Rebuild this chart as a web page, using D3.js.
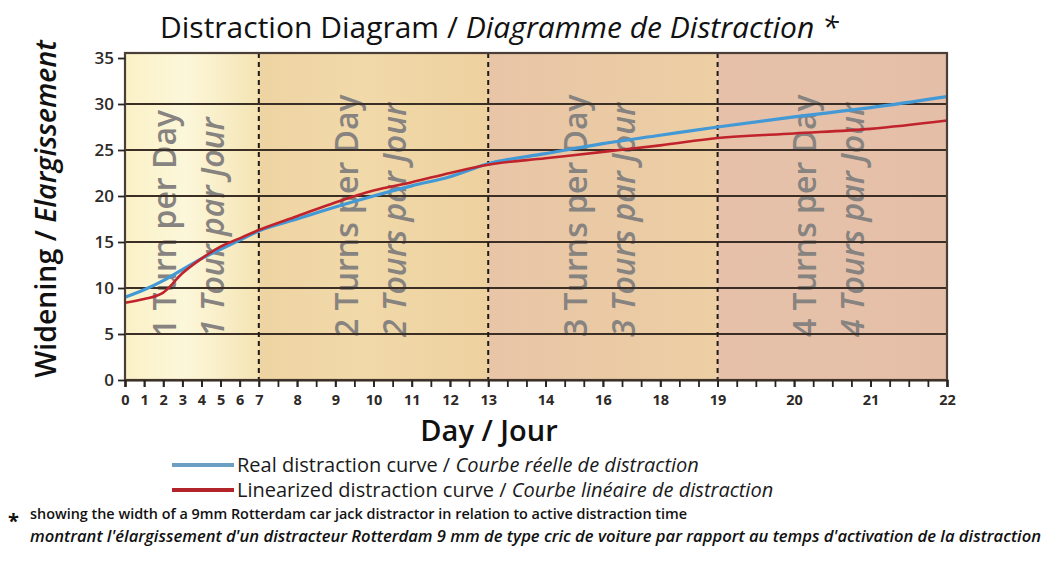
<!DOCTYPE html>
<html>
<head>
<meta charset="utf-8">
<script src="https://cdn.jsdelivr.net/npm/d3@7/dist/d3.min.js"></script>
<style>
  html, body { margin: 0; padding: 0; background: #ffffff; }
  svg { display: block; font-family: "Open Sans", "Noto Sans", sans-serif; }
</style>
</head>
<body>
<svg id="chart" width="1063" height="562"></svg>
<script>
// Turn index along the x axis (one minor tick per turn of the distractor)
const tickTurns  = [0, 1, 2, 3, 4, 5, 6, 7, 9, 11, 13, 15, 17, 19, 22, 25, 28, 31, 35, 39, 43];
const tickLabels = ["0","1","2","3","4","5","6","7","8","9","10","11","12","13","14","16","18","19","20","21","22"];

// Widening (mm) read at each labelled tick
const realCurve       = [9.0, 9.8, 10.8, 12.0, 13.2, 14.2, 15.2, 16.2, 17.5, 18.8, 20.0, 21.1, 22.1, 23.5, 24.6, 25.7, 26.6, 27.5, 28.6, 29.6, 30.8];
const linearizedCurve = [8.4, 8.8, 9.5, 11.6, 13.2, 14.5, 15.4, 16.3, 17.8, 19.3, 20.6, 21.5, 22.5, 23.4, 24.1, 24.8, 25.5, 26.3, 26.8, 27.3, 28.2];

// Activation phases: start / end turn and labels
const phaseStart = [0, 7, 19, 31];
const phaseEnd   = [7, 19, 31, 43];
const phaseEn    = ["1 Turn per Day", "2 Turns per Day", "3 Turns per Day", "4 Turns per Day"];
const phaseFr    = ["1 Tour par Jour", "2 Tours par Jour", "3 Tours par Jour", "4 Tours par Jour"];
const phaseColors = [
  ["#faf1c6", "#fcf7da", "#f5e4b4"],
  ["#efd4a3", "#f1d9a9", "#eed19f"],
  ["#e8c5a7", "#eac9a5", "#edcfa3"],
  ["#e6c0a9", "#e6c1a9", "#e5bea8"]
];

const yTicks = [0, 5, 10, 15, 20, 25, 30, 35];

const svg = d3.select("#chart");
const W = 1063, H = 562;
const plot = { left: 125, right: 947, top: 53, bottom: 380 };

const x = d3.scaleLinear().domain([0, 43]).range([plot.left, plot.right]);
const y = d3.scaleLinear().domain([0, 35]).range([plot.bottom, 58]);

svg.append("rect").attr("width", W).attr("height", H).attr("fill", "#ffffff");

// gradients for the phase bands
const defs = svg.append("defs");
phaseColors.forEach((cols, i) => {
  const g = defs.append("linearGradient").attr("id", "band" + i)
    .attr("x1", "0%").attr("x2", "100%").attr("y1", "0%").attr("y2", "0%");
  g.append("stop").attr("offset", "0%").attr("stop-color", cols[0]);
  g.append("stop").attr("offset", "45%").attr("stop-color", cols[1]);
  g.append("stop").attr("offset", "100%").attr("stop-color", cols[2]);
});

svg.append("g").selectAll("rect").data(phaseStart).join("rect")
  .attr("x", d => x(d))
  .attr("y", plot.top)
  .attr("width", (d, i) => x(phaseEnd[i]) - x(d))
  .attr("height", plot.bottom - plot.top)
  .attr("fill", (d, i) => `url(#band${i})`);

// phase captions, written bottom to top
const captions = svg.append("g")
  .attr("fill", "#878380")
  .attr("font-weight", 600)
  .attr("font-size", 32);
phaseStart.forEach((s, i) => {
  const cx = (x(s) + x(phaseEnd[i])) / 2;
  captions.append("text")
    .attr("transform", `translate(${cx - 16},337) rotate(-90)`)
    .text(phaseEn[i]);
  captions.append("text")
    .attr("transform", `translate(${cx + 32},337) rotate(-90)`)
    .attr("font-style", "italic")
    .text(phaseFr[i]);
});

// horizontal grid lines
svg.append("g").selectAll("line").data(yTicks.filter(v => v > 0 && v < 35)).join("line")
  .attr("x1", plot.left).attr("x2", plot.right)
  .attr("y1", d => y(d)).attr("y2", d => y(d))
  .attr("stroke", "#3b2e25").attr("stroke-width", 2.2);

// dashed phase dividers
svg.append("g").selectAll("line").data(phaseStart.slice(1)).join("line")
  .attr("x1", d => x(d)).attr("x2", d => x(d))
  .attr("y1", plot.top).attr("y2", plot.bottom)
  .attr("stroke", "#1e1a18").attr("stroke-width", 2)
  .attr("stroke-dasharray", "5,4");

// distraction curves
const line = vals => d3.line()
  .x((d, i) => x(tickTurns[i]))
  .y(d => y(d))
  .curve(d3.curveMonotoneX)(vals);

svg.append("path").attr("d", line(realCurve))
  .attr("fill", "none").attr("stroke", "#4299d6").attr("stroke-width", 3.2);
svg.append("path").attr("d", line(linearizedCurve))
  .attr("fill", "none").attr("stroke", "#c0232b").attr("stroke-width", 2.6);

// frame
svg.append("rect")
  .attr("x", plot.left).attr("y", plot.top)
  .attr("width", plot.right - plot.left).attr("height", plot.bottom - plot.top)
  .attr("fill", "none").attr("stroke", "#4a3f38").attr("stroke-width", 2.2);

// x axis: minor ticks for every turn, labels at day positions
const xMinor = svg.append("g").attr("transform", `translate(0,${plot.bottom})`)
  .call(d3.axisBottom(x).tickValues(d3.range(0, 44)).tickSize(7).tickFormat(""));
xMinor.select(".domain").attr("stroke", "#3b2e25").attr("stroke-width", 2.2);
xMinor.selectAll(".tick line").attr("stroke", "#2a2420").attr("stroke-width", 1.8);

const xMajor = svg.append("g").attr("transform", `translate(0,${plot.bottom})`)
  .call(d3.axisBottom(x).tickValues(tickTurns).tickSize(7)
    .tickFormat((d, i) => tickLabels[i]));
xMajor.select(".domain").remove();
xMajor.selectAll(".tick line").attr("stroke", "#2a2420").attr("stroke-width", 1.8);
xMajor.selectAll(".tick text")
  .attr("y", 15).attr("dy", "0.71em")
  .attr("font-family", "Open Sans").attr("font-weight", 700)
  .attr("font-size", 14.5).attr("fill", "#2e2a28");

// y axis
const yAxis = svg.append("g").attr("transform", `translate(${plot.left},0)`)
  .call(d3.axisLeft(y).tickValues(yTicks).tickSize(7));
yAxis.select(".domain").remove();
yAxis.selectAll(".tick line").attr("stroke", "#2a2420").attr("stroke-width", 1.8);
yAxis.selectAll(".tick text")
  .attr("x", -11)
  .attr("font-family", "Open Sans").attr("font-weight", 600)
  .attr("font-size", 17).attr("fill", "#2e2a28");

// title
const title = svg.append("text").attr("x", 160).attr("y", 38)
  .attr("font-size", 30).attr("fill", "#111");
title.append("tspan").text("Distraction Diagram / ");
title.append("tspan").attr("font-style", "italic").text("Diagramme de Distraction *");

// axis titles
const yTitle = svg.append("text")
  .attr("transform", "translate(56,209) rotate(-90)")
  .attr("text-anchor", "middle")
  .attr("font-size", 28.5).attr("font-weight", 600).attr("fill", "#111");
yTitle.append("tspan").text("Widening / ");
yTitle.append("tspan").attr("font-style", "italic").text("Elargissement");

svg.append("text").attr("x", 489).attr("y", 441)
  .attr("text-anchor", "middle")
  .attr("font-size", 29).attr("font-weight", 600).attr("fill", "#111")
  .text("Day / Jour");

// legend
const legendItems = [
  { color: "#6d9ec4", en: "Real distraction curve / ", fr: "Courbe réelle de distraction" },
  { color: "#b3232a", en: "Linearized distraction curve / ", fr: "Courbe linéaire de distraction" }
];
const legend = svg.append("g");
legendItems.forEach((item, i) => {
  const ly = 465 + i * 25;
  legend.append("line")
    .attr("x1", 172).attr("x2", 234).attr("y1", ly).attr("y2", ly)
    .attr("stroke", item.color).attr("stroke-width", 4);
  const t = legend.append("text").attr("x", 237).attr("y", ly + 7)
    .attr("font-size", 20).attr("fill", "#1a1a1a");
  t.append("tspan").text(item.en);
  t.append("tspan").attr("font-style", "italic").text(item.fr);
});

// footnote
svg.append("text").attr("x", 8).attr("y", 528)
  .attr("font-size", 20).attr("font-weight", 700).attr("fill", "#111").text("*");
svg.append("text").attr("x", 30).attr("y", 519)
  .attr("font-size", 14.4).attr("font-weight", 600).attr("fill", "#111")
  .text("showing the width of a 9mm Rotterdam car jack distractor in relation to active distraction time");
svg.append("text").attr("x", 30).attr("y", 542)
  .attr("font-size", 16.6).attr("font-weight", 600).attr("font-style", "italic").attr("fill", "#111")
  .text("montrant l'élargissement d'un distracteur Rotterdam 9 mm de type cric de voiture par rapport au temps d'activation de la distraction");
</script>
</body>
</html>
